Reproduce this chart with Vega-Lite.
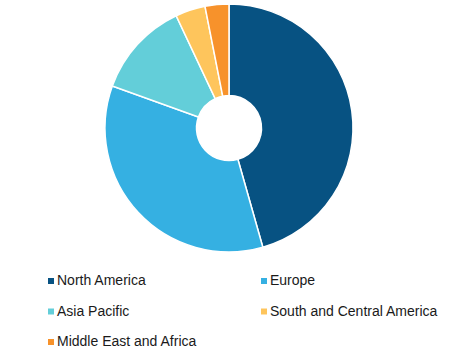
{
  "$schema": "https://vega.github.io/schema/vega-lite/v6.json",
  "width": 250,
  "height": 250,
  "autosize": {"type": "none"},
  "padding": {"left": 104, "top": 3, "right": 96, "bottom": 105},
  "background": "white",
  "view": {"stroke": null},
  "data": {
    "values": [
      {"region": "North America", "share": 45.6, "rank": 1},
      {"region": "Europe", "share": 34.9, "rank": 2},
      {"region": "\u00a0Asia Pacific", "share": 12.5, "rank": 3},
      {"region": "South and Central America", "share": 3.9, "rank": 4},
      {"region": "Middle East and Africa", "share": 3.1, "rank": 5}
    ]
  },
  "mark": {"type": "arc", "outerRadius": 124, "innerRadius": 32.5, "stroke": "white", "strokeWidth": 1.5},
  "encoding": {
    "theta": {"field": "share", "type": "quantitative", "stack": true},
    "order": {"field": "rank", "type": "quantitative"},
    "color": {
      "field": "region",
      "type": "nominal",
      "scale": {
        "domain": ["North America", "\u00a0Asia Pacific", "Middle East and Africa", "Europe", "South and Central America"],
        "range": ["#075282", "#63ced9", "#f7922b", "#35b0e2", "#fec55c"]
      },
      "legend": {
        "title": null,
        "orient": "none",
        "legendX": -60,
        "legendY": 271,
        "columns": 2,
        "columnPadding": 59,
        "rowPadding": 16.5,
        "symbolType": "square",
        "symbolSize": 36,
        "symbolStrokeWidth": 0,
        "labelFont": "Liberation Sans",
        "labelFontSize": 14,
        "labelColor": "#1a1a1a",
        "labelOffset": -1,
        "labelLimit": 300
      }
    }
  }
}
